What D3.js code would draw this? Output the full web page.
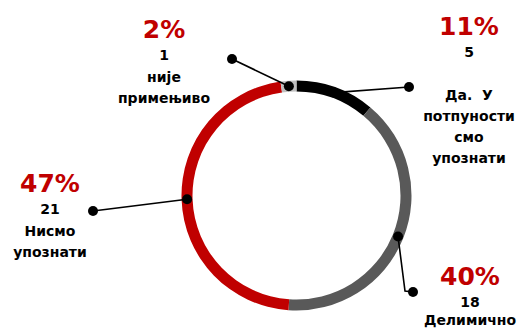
<!DOCTYPE html>
<html>
<head>
<meta charset="utf-8">
<script src="https://d3js.org/d3.v7.min.js"></script>
<style>
  body { margin: 0; background: #fff; }
  text { font-family: "DejaVu Sans", sans-serif; font-weight: bold; white-space: pre; }
</style>
</head>
<body>
<div id="chart"></div>
<script>
// data, clockwise from 12 o'clock
var categories = ["Да. У потпуности смо упознати", "Делимично", "Нисмо упознати", "није примењиво"]
var counts = [5, 18, 21, 1]
var percents = ["11%", "40%", "47%", "2%"]
var labelLines = [
    ["Да.  У", "потпуности", "смо", "упознати"],
    ["Делимично"],
    ["Нисмо", "упознати"],
    ["није", "примењиво"]
]
var colors = ["#000000", "#595959", "#C00000", "#BFBFBF"]

var width = 519, height = 328
var cx = 296.5, cy = 195.5
var outerR = 115, innerR = 104

var svg = d3.select("#chart")
    .append("svg")
    .attr("width", width)
    .attr("height", height)

var g = svg.append("g")
    .attr("transform", "translate(" + cx + "," + cy + ")")

var pie = d3.pie().sort(null).startAngle(0).endAngle(2 * Math.PI)
var arc = d3.arc().innerRadius(innerR).outerRadius(outerR)

var arcs = pie(counts)

g.selectAll("path.slice")
    .data(arcs)
    .enter().append("path")
    .attr("class", "slice")
    .attr("d", arc)
    .attr("fill", function (d, i) { return colors[i] })

// label layout (outer dot, percent text anchor, gap to first label line)
var layout = [
    { dot: [409, 87], text: [469, 35], elbow: null, gap: 65 },
    { dot: [413, 292], text: [470, 285], elbow: [405, 291], gap: 40 },
    { dot: [93, 211], text: [50, 192], elbow: null, gap: 44 },
    { dot: [232, 59], text: [164, 38], elbow: null, gap: 44 }
]

arcs.forEach(function (d, i) {
    var c = arc.centroid(d)
    var p0 = [cx + c[0], cy + c[1]]
    var L = layout[i]
    var pts = [p0]
    if (L.elbow) pts.push(L.elbow)
    pts.push(L.dot)

    svg.append("path")
        .attr("d", d3.line()(pts))
        .attr("fill", "none")
        .attr("stroke", "#000")
        .attr("stroke-width", 1.6)

    svg.append("circle").attr("cx", p0[0]).attr("cy", p0[1]).attr("r", 5).attr("fill", "#000")
    svg.append("circle").attr("cx", L.dot[0]).attr("cy", L.dot[1]).attr("r", 5).attr("fill", "#000")

    var t = svg.append("g").attr("text-anchor", "middle")
    t.append("text")
        .attr("x", L.text[0]).attr("y", L.text[1])
        .attr("fill", "#C00000")
        .style("font-size", "25px")
        .text(percents[i])
    t.append("text")
        .attr("x", L.text[0]).attr("y", L.text[1] + 22)
        .attr("fill", "#000")
        .style("font-size", "14px")
        .text(counts[i])

    labelLines[i].forEach(function (line, k) {
        t.append("text")
            .attr("x", L.text[0]).attr("y", L.text[1] + L.gap + k * 21)
            .attr("fill", "#000")
            .style("font-size", "14px")
            .text(line)
    })
})
</script>
</body>
</html>
